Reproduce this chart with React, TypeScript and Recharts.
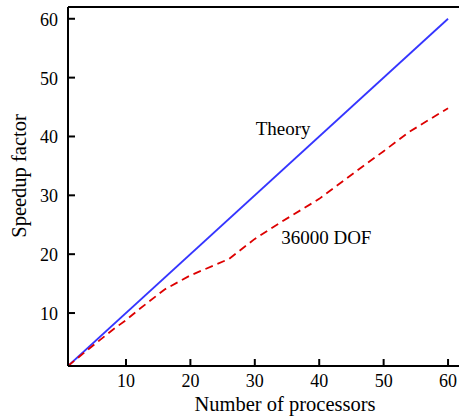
import React from "react";
import {
  LineChart,
  Line,
  XAxis,
  YAxis,
  ReferenceLine,
  ReferenceDot,
} from "recharts";

// theory: ideal linear speedup
const theoryProcs = [1, 60];
const theorySpeedup = [1, 60];

// measured speedup, 36000 DOF
const dofProcs = [1, 4, 8, 10, 12, 16, 20, 26, 30, 34, 40, 46, 50, 54, 60];
const dofSpeedup = [1, 3.7, 7.2, 8.8, 10.6, 14.0, 16.4, 19.2, 22.6, 25.4, 29.4, 34.3, 37.5, 40.8, 44.8];

const xTicks = [10, 20, 30, 40, 50, 60];
const yTicks = [10, 20, 30, 40, 50, 60];

const theoryData = theoryProcs.map((x, i) => ({ x, y: theorySpeedup[i] }));
const dofData = dofProcs.map((x, i) => ({ x, y: dofSpeedup[i] }));

const FONT = "Liberation Serif, Times New Roman, serif";

function XTick({ x, y, payload }: any) {
  return (
    <g>
      <line x1={x} y1={y} x2={x} y2={y - 7} stroke="#000" strokeWidth={2} />
      <text x={x} y={y + 21} textAnchor="middle" style={{ fontFamily: FONT, fontSize: 18 }} fill="#000">
        {payload.value}
      </text>
    </g>
  );
}

function YTick({ x, y, payload }: any) {
  return (
    <g>
      <line x1={x} y1={y} x2={x + 7} y2={y} stroke="#000" strokeWidth={2} />
      <text x={x - 10} y={y + 7} textAnchor="end" style={{ fontFamily: FONT, fontSize: 18 }} fill="#000">
        {payload.value}
      </text>
    </g>
  );
}

export default function App() {
  return (
    <div style={{ position: "absolute", left: 0, top: 0, background: "#fff" }}>
      <LineChart width={459} height={419} margin={{ top: 7, right: 0, bottom: 0, left: 0 }}>
        <XAxis
          type="number"
          dataKey="x"
          domain={[1, 61.7]}
          ticks={xTicks}
          allowDataOverflow
          height={53}
          tickSize={0}
          tickMargin={0}
          tick={<XTick />}
          axisLine={{ stroke: "#000", strokeWidth: 2 }}
          label={{
            content: () => (
              <text x={285} y={411} textAnchor="middle" style={{ fontFamily: FONT, fontSize: 20.5 }} fill="#000">
                Number of processors
              </text>
            ),
          }}
        />
        <YAxis
          type="number"
          dataKey="y"
          domain={[1, 62]}
          ticks={yTicks}
          allowDataOverflow
          width={68}
          tickSize={0}
          tickMargin={0}
          tick={<YTick />}
          axisLine={{ stroke: "#000", strokeWidth: 2 }}
          label={{
            content: () => (
              <text
                transform="translate(26,176) rotate(-90)"
                textAnchor="middle"
                style={{ fontFamily: FONT, fontSize: 20.5 }}
                fill="#000"
              >
                Speedup factor
              </text>
            ),
          }}
        />
        <ReferenceLine y={62} stroke="#000" strokeWidth={2} ifOverflow="visible" />
        <Line
          data={theoryData}
          dataKey="y"
          type="linear"
          stroke="#3535ff"
          strokeWidth={1.8}
          dot={false}
          isAnimationActive={false}
        />
        <Line
          data={dofData}
          dataKey="y"
          type="linear"
          stroke="#dd0000"
          strokeWidth={1.8}
          strokeDasharray="8 5"
          dot={false}
          isAnimationActive={false}
        />
        <ReferenceDot
          x={34.4}
          y={41.4}
          r={0}
          fill="none"
          stroke="none"
          label={{ value: "Theory", position: "center", style: { fontFamily: FONT, fontSize: 19 }, fill: "#000" }}
        />
        <ReferenceDot
          x={41.1}
          y={22.9}
          r={0}
          fill="none"
          stroke="none"
          label={{ value: "36000 DOF", position: "center", style: { fontFamily: FONT, fontSize: 19 }, fill: "#000" }}
        />
      </LineChart>
    </div>
  );
}
